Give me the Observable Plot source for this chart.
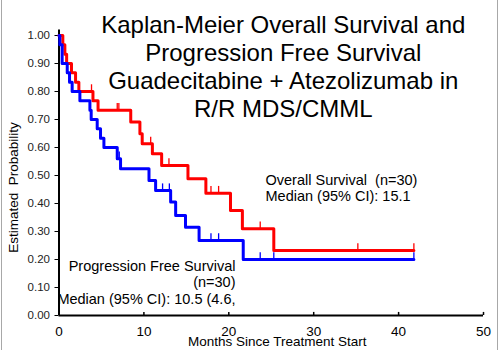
<!DOCTYPE html>
<html>
<head>
<meta charset="utf-8">
<script src="https://cdn.jsdelivr.net/npm/d3@7"></script>
<script src="https://cdn.jsdelivr.net/npm/@observablehq/plot@0.6"></script>
<style>
  body { margin: 0; background: #fff; }
  #wrap { position: relative; width: 499px; height: 350px; overflow: hidden; }
  #wrap::before, #wrap::after { content: ""; position: absolute; top: 0; bottom: 0; width: 1px; background: #a8a8a8; }
  #wrap::before { left: 1px; }
  #wrap::after { right: 1px; }
</style>
</head>
<body>
<div id="wrap"></div>
<script>
// Overall survival (red) step curve
const osTime = [0, 0.45, 0.69, 0.9, 1.47, 1.95, 2.34, 4.0, 4.6, 8.45, 9.53, 9.8, 11.0, 12.09, 15.19, 17.3, 20.2, 21.6, 25.3, 41.8];
const osSurv = [1, 0.967, 0.933, 0.9, 0.867, 0.833, 0.8, 0.767, 0.733, 0.691, 0.649, 0.613, 0.578, 0.536, 0.488, 0.437, 0.375, 0.31, 0.232, 0.232];
// OS censor marks
const osCensTime = [3.83, 6.86, 7.05, 10.8, 12.95, 17.9, 18.8, 23.7, 35.2, 41.8];
const osCensSurv = [0.8, 0.733, 0.733, 0.613, 0.536, 0.437, 0.437, 0.31, 0.232, 0.232];

// Progression free survival (blue) step curve
const pfsTime = [0, 0.1, 0.37, 0.97, 1.24, 1.55, 2.46, 3.64, 3.79, 4.5, 4.89, 5.29, 6.86, 7.25, 10.6, 11.38, 13.15, 13.74, 14.9, 16.5, 21.7, 41.8];
const pfsSurv = [1, 0.967, 0.9, 0.867, 0.833, 0.8, 0.767, 0.733, 0.7, 0.667, 0.633, 0.6, 0.56, 0.524, 0.482, 0.446, 0.405, 0.357, 0.315, 0.268, 0.2, 0.2];
// PFS censor marks
const pfsCensTime = [7.1, 12.2, 13.0, 17.9, 18.8, 23.7, 25.3, 41.8];
const pfsCensSurv = [0.56, 0.446, 0.446, 0.268, 0.268, 0.2, 0.2, 0.2];

const xTicks = [0, 10, 20, 30, 40, 50];
const yTicks = [0, 0.1, 0.2, 0.3, 0.4, 0.5, 0.6, 0.7, 0.8, 0.9, 1.0];

const titleLines = ["Kaplan-Meier Overall Survival and", "Progression Free Survival", "Guadecitabine + Atezolizumab in", "R/R MDS/CMML"];
const osLabel = ["Overall Survival  (n=30)", "Median (95% CI): 15.1"];
const pfsLabel = ["Progression Free Survival", "(n=30)", "Median (95% CI): 10.5 (4.6,"];
const xLabel = "Months Since Treatment Start";
const yLabel = "Estimated  Probability";

const osData = osTime.map((t, i) => ({t, s: osSurv[i]}));
const pfsData = pfsTime.map((t, i) => ({t, s: pfsSurv[i]}));
const osCens = osCensTime.map((t, i) => ({t, s: osCensSurv[i]}));
const pfsCens = pfsCensTime.map((t, i) => ({t, s: pfsCensSurv[i]}));

const RED = "#ff0000", BLUE = "#0000ff";

const chart = Plot.plot({
  width: 499,
  height: 350,
  marginLeft: 58.5,
  marginRight: 16,
  marginTop: 35,
  marginBottom: 35,
  x: {domain: [0, 50]},
  y: {domain: [0, 1]},
  style: {fontFamily: "'Liberation Sans', Arial, sans-serif", background: "transparent", overflow: "visible", color: "black"},
  marks: [
    Plot.axisY(yTicks, {tickFormat: d => d.toFixed(2), tickSize: 4, tickPadding: 5, fontSize: 11.5, label: null, fill: "#222"}),
    Plot.axisX(xTicks, {tickSize: 0, tickPadding: 11, fontSize: 13.5, label: null}),
    Plot.ruleX(xTicks, {y1: 0, y2: 0.011, stroke: "black", strokeWidth: 1.5}),
    Plot.ruleY([0], {stroke: "black", strokeWidth: 2}),
    Plot.ruleX([0], {y1: 0, y2: 1.02, stroke: "black", strokeWidth: 2}),
    Plot.line(osData, {x: "t", y: "s", curve: "step-after", stroke: RED, strokeWidth: 3}),
    Plot.ruleX(osCens, {x: "t", y1: "s", y2: d => d.s + 0.024, stroke: RED, strokeWidth: 1.3}),
    Plot.line(pfsData, {x: "t", y: "s", curve: "step-after", stroke: BLUE, strokeWidth: 3}),
    Plot.ruleX(pfsCens, {x: "t", y1: "s", y2: d => d.s + 0.024, stroke: BLUE, strokeWidth: 1.3}),
    Plot.text([titleLines.join("\n")], {text: d => d, frameAnchor: "top", dx: 12, dy: -22, lineAnchor: "top", textAnchor: "middle", fontSize: 24, lineHeight: 1.167, fill: "black"}),
    Plot.text([osLabel.join("\n")], {text: d => d, frameAnchor: "top-left", dx: 206.5, dy: 139, lineAnchor: "top", textAnchor: "start", fontSize: 14.5, lineHeight: 1.06, fill: "black"}),
    Plot.text([pfsLabel.join("\n")], {text: d => d, frameAnchor: "top-left", dx: 176.5, dy: 223.6, lineAnchor: "top", textAnchor: "end", fontSize: 14.5, lineHeight: 1.14, fill: "black"}),
    Plot.text([xLabel], {text: d => d, frameAnchor: "bottom", dx: 6, dy: 30, lineAnchor: "bottom", textAnchor: "middle", fontSize: 13.5, fill: "black"}),
    Plot.text([yLabel], {text: d => d, frameAnchor: "left", dx: -45, dy: 12, rotate: -90, lineAnchor: "middle", textAnchor: "middle", fontSize: 13.5, fill: "black"})
  ]
});
document.getElementById("wrap").appendChild(chart);
</script>
</body>
</html>
